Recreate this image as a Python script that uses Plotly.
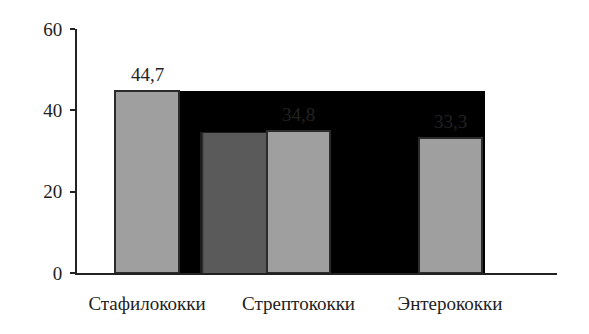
import plotly.graph_objects as go

categories = ["Стафилококки", "Стрептококки", "Энтерококки"]
values = [44.7, 34.8, 33.3]
value_labels = ["44,7", "34,8", "33,3"]
shadow_value = 34.4        # dark grey bar between first and second category
backdrop_value = 44.7      # black backdrop rectangle height
y_ticks = [0, 20, 40, 60]

FONT = "Liberation Serif, Times New Roman, Liberation Sans, Arial, sans-serif"
x_pos = list(range(len(categories)))
bar_w = 0.416

fig = go.Figure()

# black backdrop panel
fig.add_trace(go.Bar(
    x=[(x_pos[0] + bar_w / 2 + x_pos[2] + 0.228) / 2], y=[backdrop_value],
    width=[x_pos[2] + 0.228 - (x_pos[0] + bar_w / 2)],
    marker=dict(color="#000000", line=dict(width=0)),
    hoverinfo="skip", showlegend=False))

# blurred dark grey bar (layers to fake a soft edge)
for extra, col in [(0.05, "#1c1c1c"), (0.03, "#333333"), (0.012, "#4a4a4a"), (0.0, "#5a5a5a")]:
    fig.add_trace(go.Bar(
        x=[x_pos[1] - 0.415], y=[shadow_value + extra * 4],
        width=[bar_w + extra],
        marker=dict(color=col, line=dict(width=0)),
        hoverinfo="skip", showlegend=False))

# main grey bars
fig.add_trace(go.Bar(
    x=x_pos, y=values, width=[bar_w] * 3,
    marker=dict(color="#a09fa0", line=dict(color="#2b2b2b", width=2)),
    hoverinfo="skip", showlegend=False))

for xv, yv, lab in zip(x_pos, values, value_labels):
    fig.add_annotation(x=xv, y=yv, text=lab, showarrow=False,
                       yanchor="bottom", yshift=4,
                       font=dict(family=FONT, size=19, color="#222222"))

fig.update_layout(
    width=589, height=334,
    margin=dict(l=77, r=32, t=29, b=61),
    paper_bgcolor="white", plot_bgcolor="white",
    barmode="overlay", bargap=0,
    font=dict(family=FONT, size=19, color="#222222"),
    xaxis=dict(range=[-0.462, 2.706], tickvals=x_pos, ticktext=categories,
               showline=True, linecolor="#222222", linewidth=2,
               showgrid=False, zeroline=False, ticks="",
               ticklabelstandoff=12, tickfont=dict(family=FONT, size=19, color="#222222")),
    yaxis=dict(range=[0, 60], tickvals=y_ticks, showline=True,
               linecolor="#222222", linewidth=2, showgrid=False, zeroline=False,
               ticks="outside", ticklen=5, tickwidth=2, tickcolor="#222222",
               ticklabelstandoff=4, tickfont=dict(family=FONT, size=19, color="#222222")),
)

fig.write_html("out.html")
